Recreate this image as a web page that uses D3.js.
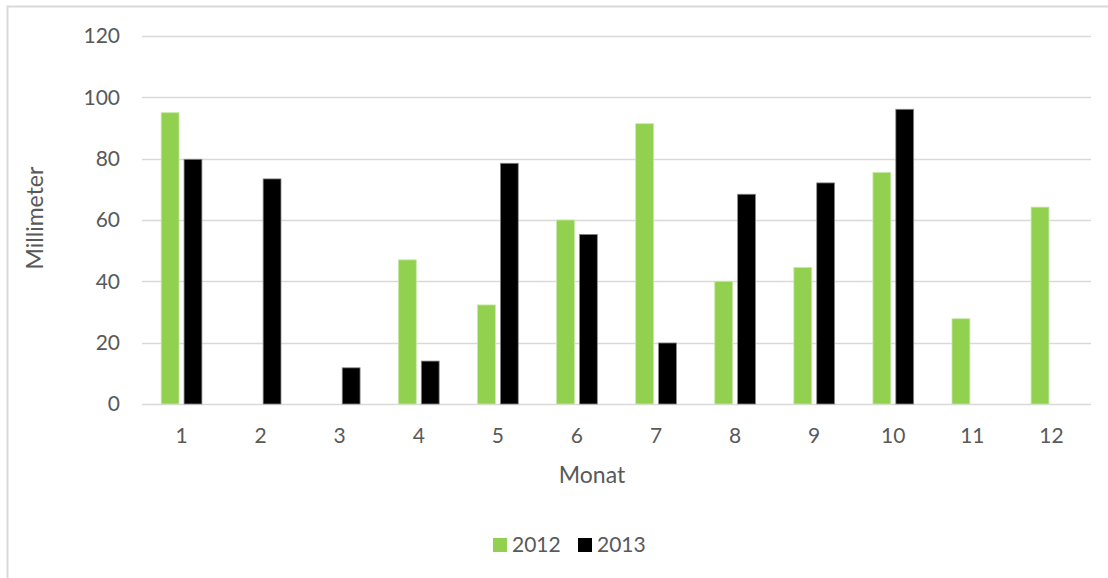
<!DOCTYPE html>
<html>
<head>
<meta charset="utf-8">
<script src="https://cdn.jsdelivr.net/npm/d3@7"></script>
<style>
  body { margin: 0; background: #fff; }
  text { font-family: Lato, "Open Sans", sans-serif; fill: #595959; }
</style>
</head>
<body>
<div id="chart"></div>
<script>
var months = [1, 2, 3, 4, 5, 6, 7, 8, 9, 10, 11, 12];
var series = ["2012", "2013"];
var values2012 = [95, null, null, 47, 32.3, 60, 91.4, 40, 44.5, 75.5, 27.8, 64.2];
var values2013 = [79.8, 73.4, 11.8, 14, 78.5, 55.3, 19.9, 68.4, 72.1, 96.1, null, null];
var yTicks = [0, 20, 40, 60, 80, 100, 120];
var colors = ["#92d050", "#000000"];

var w = 1108;
var h = 578;
var plotLeft = 142, plotRight = 1091, plotTop = 36, plotBottom = 404;

var svg = d3.select("#chart").append("svg")
  .attr("width", w)
  .attr("height", h);

// outer chart frame (only top and left edges are in the picture)
svg.append("rect")
  .attr("x", 7.5).attr("y", 6.5)
  .attr("width", w + 20).attr("height", h + 20)
  .attr("fill", "none")
  .attr("stroke", "#d9d9d9")
  .attr("stroke-width", 2);

var x0 = d3.scaleBand().domain(months).range([plotLeft, plotRight]).paddingInner(0.485).paddingOuter(0.2425);
var x1 = d3.scaleBand().domain(series).range([0, x0.bandwidth()]).paddingInner(0.22);
var y = d3.scaleLinear().domain([0, 120]).range([plotBottom, plotTop]);

// gridlines
svg.append("g")
  .selectAll("line")
  .data(yTicks)
  .enter()
  .append("line")
  .attr("x1", plotLeft)
  .attr("x2", plotRight)
  .attr("y1", function(d) { return Math.round(y(d)) + 0.5; })
  .attr("y2", function(d) { return Math.round(y(d)) + 0.5; })
  .attr("stroke", "#d9d9d9")
  .attr("stroke-width", 1.3);

// y tick labels
svg.append("g")
  .selectAll("text")
  .data(yTicks)
  .enter()
  .append("text")
  .attr("x", 120)
  .attr("y", function(d) { return y(d); })
  .attr("dy", "0.35em")
  .attr("text-anchor", "end")
  .attr("font-size", 21)
  .text(function(d) { return d; });

// x tick labels
svg.append("g")
  .selectAll("text")
  .data(months)
  .enter()
  .append("text")
  .attr("x", function(d) { return x0(d) + x0.bandwidth() / 2; })
  .attr("y", 436)
  .attr("dy", "0.35em")
  .attr("text-anchor", "middle")
  .attr("font-size", 21)
  .text(function(d) { return d; });

var data = months.map(function(m, i) {
  return { month: m, vals: [
    { key: "2012", v: values2012[i], c: colors[0] },
    { key: "2013", v: values2013[i], c: colors[1] }
  ] };
});

var groups = svg.append("g")
  .selectAll("g")
  .data(data)
  .enter()
  .append("g")
  .attr("transform", function(d) { return "translate(" + x0(d.month) + ",0)"; });

groups.selectAll("rect")
  .data(function(d) { return d.vals.filter(function(e) { return e.v != null; }); })
  .enter()
  .append("rect")
  .attr("x", function(d) { return x1(d.key); })
  .attr("y", function(d) { return y(d.v); })
  .attr("width", x1.bandwidth())
  .attr("height", function(d) { return plotBottom - y(d.v); })
  .attr("fill", function(d) { return d.c; })
  .attr("stroke", function(d) { return d.key == "2012" ? "#c6e8a6" : "#888"; })
  .attr("stroke-width", 0.8);

// axis titles
svg.append("text")
  .attr("x", 592)
  .attr("y", 475)
  .attr("dy", "0.35em")
  .attr("text-anchor", "middle")
  .attr("font-size", 23)
  .text("Monat");

svg.append("text")
  .attr("transform", "translate(35,218) rotate(-90)")
  .attr("dy", "0.35em")
  .attr("text-anchor", "middle")
  .attr("font-size", 23)
  .text("Millimeter");

// legend
var legendX = [493, 578];
var legend = svg.append("g")
  .selectAll("g")
  .data(series)
  .enter()
  .append("g")
  .attr("transform", function(d, i) { return "translate(" + legendX[i] + ",538)"; });

legend.append("rect")
  .attr("width", 14)
  .attr("height", 14)
  .attr("fill", function(d, i) { return colors[i]; });

legend.append("text")
  .attr("x", 19)
  .attr("y", 7)
  .attr("dy", "0.35em")
  .attr("font-size", 21)
  .text(function(d) { return d; });
</script>
</body>
</html>
